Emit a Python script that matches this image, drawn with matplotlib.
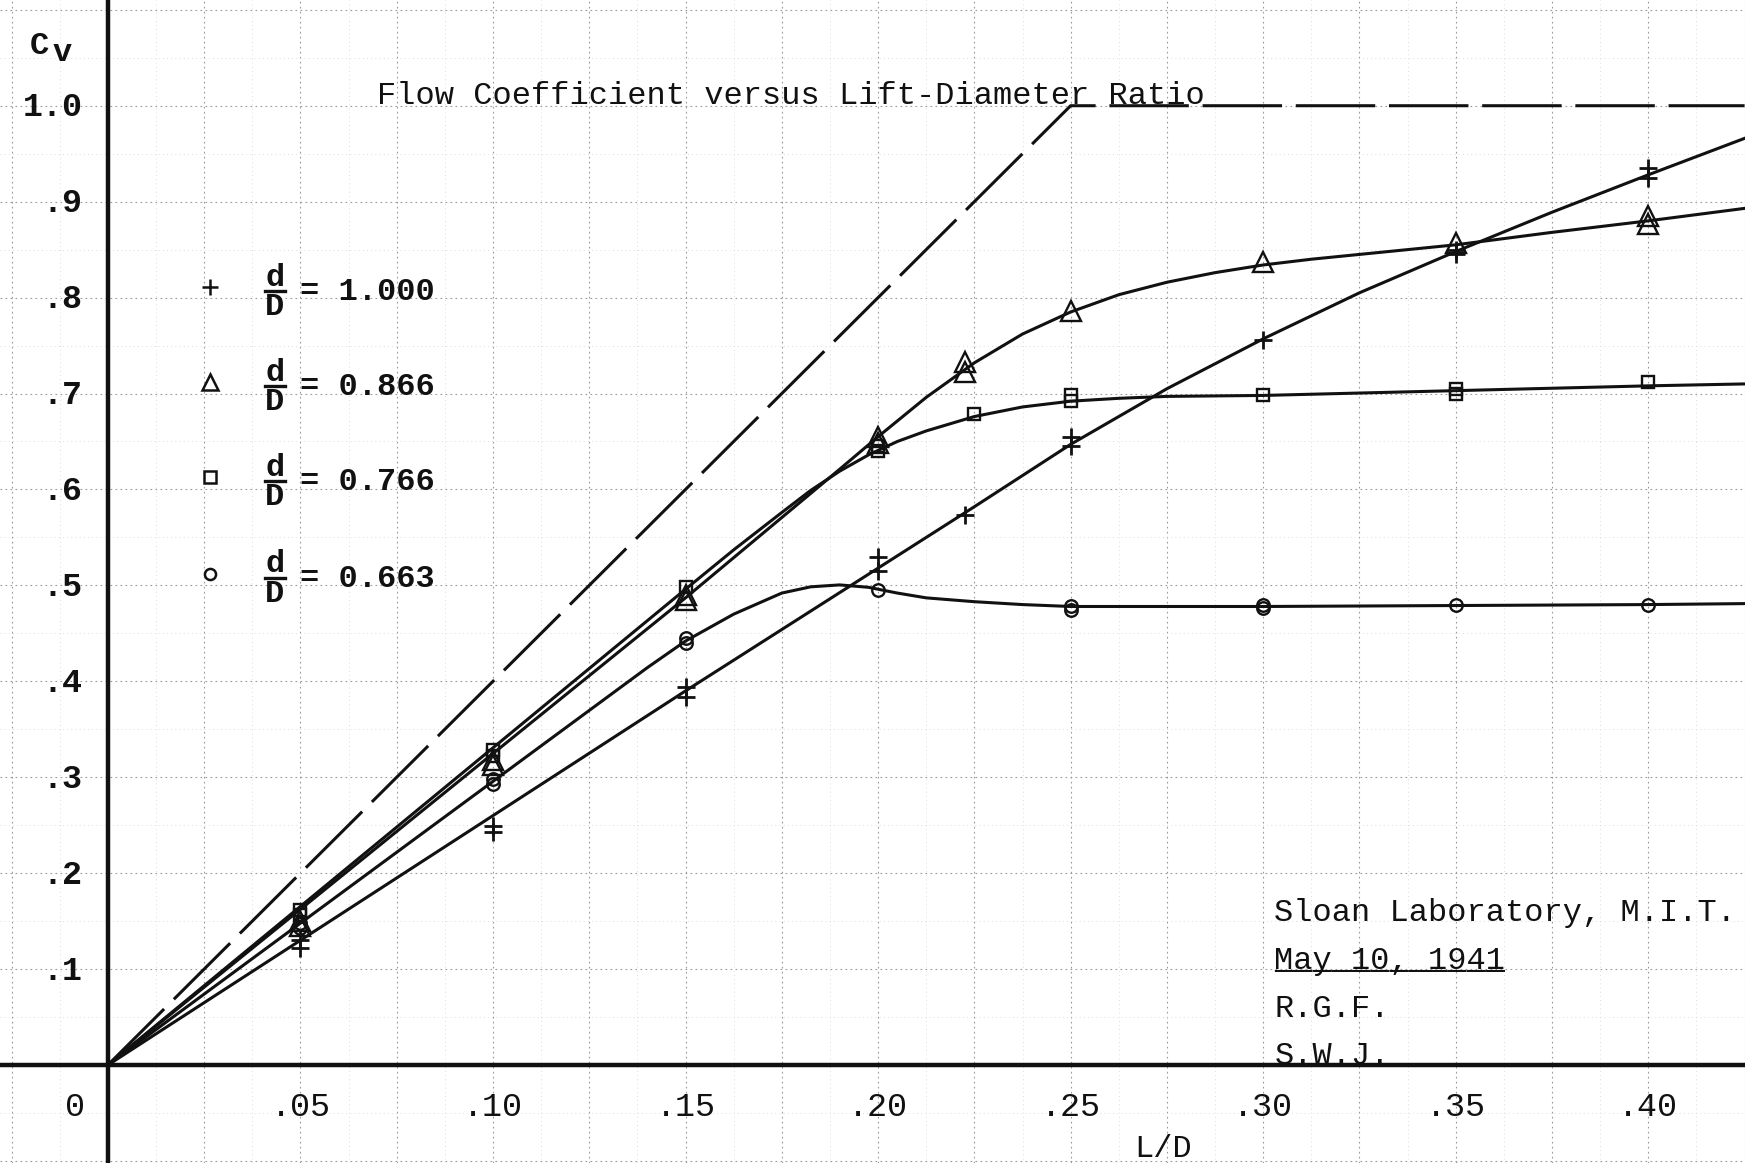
import matplotlib
matplotlib.use('Agg')
import matplotlib.pyplot as plt
import numpy as np

plt.rcParams['font.family'] = ['Liberation Mono', 'DejaVu Sans Mono']

# measured points (L/D, Cv); repeated runs share the same L/D
ld_100 = [0.05, 0.05, 0.10, 0.10, 0.15, 0.15, 0.20, 0.20, 0.2225, 0.25, 0.25, 0.30, 0.35, 0.35, 0.40, 0.40]
cv_100 = [0.130, 0.122, 0.249, 0.243, 0.394, 0.384, 0.530, 0.515, 0.573, 0.655, 0.645, 0.756, 0.850, 0.845, 0.935, 0.925]

ld_866 = [0.05, 0.05, 0.10, 0.10, 0.15, 0.15, 0.20, 0.20, 0.2225, 0.2225, 0.25, 0.30, 0.35, 0.40, 0.40]
cv_866 = [0.150, 0.145, 0.318, 0.313, 0.490, 0.485, 0.655, 0.648, 0.733, 0.722, 0.786, 0.837, 0.857, 0.885, 0.877]

ld_766 = [0.05, 0.05, 0.10, 0.10, 0.15, 0.20, 0.20, 0.225, 0.25, 0.25, 0.30, 0.35, 0.35, 0.40]
cv_766 = [0.162, 0.156, 0.328, 0.322, 0.498, 0.645, 0.640, 0.679, 0.698, 0.692, 0.698, 0.705, 0.700, 0.712]

ld_663 = [0.05, 0.05, 0.10, 0.10, 0.15, 0.15, 0.20, 0.25, 0.25, 0.30, 0.30, 0.35, 0.40]
cv_663 = [0.148, 0.143, 0.298, 0.293, 0.445, 0.440, 0.495, 0.479, 0.474, 0.480, 0.476, 0.480, 0.480]

# faired curves as drawn on the sheet
fair_x_100 = [0, 0.15, 0.20, 0.225, 0.25, 0.275, 0.30, 0.325, 0.35, 0.375, 0.40, 0.425]
fair_cv_100 = [0, 0.390, 0.518, 0.582, 0.647, 0.705, 0.757, 0.805, 0.848, 0.889, 0.928, 0.966]

fair_x_866 = [0, 0.15, 0.19, 0.20, 0.2125, 0.225, 0.2375, 0.25, 0.2625, 0.275, 0.2875, 0.30, 0.3125, 0.325, 0.35, 0.375, 0.40, 0.425]
fair_cv_866 = [0, 0.487, 0.621, 0.655, 0.696, 0.732, 0.762, 0.785, 0.803, 0.816, 0.826, 0.834, 0.840, 0.845, 0.855, 0.868, 0.880, 0.893]

fair_x_766 = [0, 0.15, 0.1625, 0.175, 0.1825, 0.19, 0.1975, 0.205, 0.2125, 0.225, 0.2375, 0.25, 0.2625, 0.275, 0.30, 0.35, 0.40, 0.425]
fair_cv_766 = [0, 0.496, 0.537, 0.576, 0.599, 0.619, 0.636, 0.650, 0.661, 0.676, 0.686, 0.692, 0.695, 0.697, 0.698, 0.703, 0.708, 0.710]

fair_x_663 = [0, 0.14, 0.15, 0.1625, 0.175, 0.1825, 0.19, 0.1975, 0.205, 0.2125, 0.225, 0.2375, 0.25, 0.30, 0.35, 0.40, 0.425]
fair_cv_663 = [0, 0.414, 0.442, 0.470, 0.492, 0.4985, 0.5005, 0.498, 0.492, 0.487, 0.483, 0.480, 0.478, 0.478, 0.479, 0.480, 0.481]

# ideal line Cv = 4 L/D, capped at 1.0
ideal_x = [0, 0.25, 0.425]
ideal_cv = [0, 1.0, 1.0]

ratio_labels = ['1.000', '0.866', '0.766', '0.663']
ratio_markers = ['+', '^', 's', 'o']

xtick_vals = [0.05, 0.10, 0.15, 0.20, 0.25, 0.30, 0.35, 0.40]
xtick_labels = ['.05', '.10', '.15', '.20', '.25', '.30', '.35', '.40']
ytick_vals = [0.1, 0.2, 0.3, 0.4, 0.5, 0.6, 0.7, 0.8, 0.9, 1.0]
ytick_labels = ['.1', '.2', '.3', '.4', '.5', '.6', '.7', '.8', '.9', '1.0']

sign_lines = ['Sloan Laboratory, M.I.T.', 'May 10, 1941', 'R.G.F.', 'S.W.J.']

fs = 23
ink = '#111111'

fig = plt.figure(figsize=(17.45, 11.63), dpi=100)
ax = fig.add_axes([0, 0, 1, 1])
ax.set_xlim(-0.0280, 0.4251)
ax.set_ylim(-0.1021, 1.1102)
for s in ax.spines.values():
    s.set_visible(False)

# graph paper
ax.set_xticks(np.arange(-0.025, 0.43, 0.025))
ax.set_xticks(np.arange(-0.025, 0.43, 0.0125), minor=True)
ax.set_yticks(np.arange(-0.1, 1.15, 0.1))
ax.set_yticks(np.arange(-0.1, 1.15, 0.05), minor=True)
ax.tick_params(which='both', length=0, labelbottom=False, labelleft=False)
ax.grid(which='major', color='#9a9a9a', lw=0.8, ls=(0, (1.5, 3)))
ax.grid(which='minor', color='#d2d2d2', lw=0.6, ls=(0, (1, 4)))
ax.set_axisbelow(True)

# heavy axes
ax.axvline(0, color=ink, lw=3.2, zorder=3)
ax.axhline(0, color=ink, lw=3.2, zorder=3)

# ideal dashed line
ax.plot(ideal_x, ideal_cv, color=ink, lw=2.2, dashes=(26, 4.5), zorder=4)

# faired curves
lw = 2.2
ax.plot(fair_x_100, fair_cv_100, color=ink, lw=lw, zorder=4, solid_joinstyle='round')
ax.plot(fair_x_866, fair_cv_866, color=ink, lw=lw, zorder=4, solid_joinstyle='round')
ax.plot(fair_x_766, fair_cv_766, color=ink, lw=lw, zorder=4, solid_joinstyle='round')
ax.plot(fair_x_663, fair_cv_663, color=ink, lw=lw, zorder=4, solid_joinstyle='round')

# data points
ax.plot(ld_100, cv_100, ls='none', marker='+', ms=13, mew=2.0, color=ink, zorder=5)
ax.plot(ld_866, cv_866, ls='none', marker='^', ms=14, mew=1.7, mfc='none', mec=ink, zorder=5)
ax.plot(ld_766, cv_766, ls='none', marker='s', ms=9, mew=1.7, mfc='none', mec=ink, zorder=5)
ax.plot(ld_663, cv_663, ls='none', marker='o', ms=9, mew=1.7, mfc='none', mec=ink, zorder=5)

# hand made key: marker, d over D, value
key_rows = [0.808, 0.709, 0.610, 0.509]
key_sizes = [11, 11, 9, 8]
for row, lab, m, ms in zip(key_rows, ratio_labels, ratio_markers, key_sizes):
    ax.plot([0.0265], [row + 0.003], ls='none', marker=m, ms=ms, mew=1.8,
            mfc='none', mec=ink, color=ink, zorder=5)
    ax.text(0.0434, row + 0.0045, 'd', fontsize=fs, color=ink, ha='center', va='baseline',
            weight='bold')
    ax.text(0.0434, row - 0.0265, 'D', fontsize=fs, color=ink, ha='center', va='baseline',
            weight='bold')
    ax.plot([0.0408, 0.0460], [row - 0.001, row - 0.001], color=ink, lw=2.4)
    ax.text(0.0500, row - 0.011, '= ' + lab, fontsize=fs, color=ink, ha='left', va='baseline',
            weight='bold')

# title
ax.text(0.0700, 1.002, 'Flow Coefficient versus Lift-Diameter Ratio', fontsize=fs,
        color=ink, ha='left', va='baseline')

# axis labels
ax.text(-0.0179, 1.0534, 'C', fontsize=fs, color=ink, ha='center', va='baseline', weight='bold')
ax.text(-0.0118, 1.047, 'v', fontsize=fs, color=ink, ha='center', va='baseline', weight='bold')
ax.text(0.274, -0.096, 'L/D', fontsize=fs, color=ink, ha='center', va='baseline')

for v, lab in zip(xtick_vals, xtick_labels):
    ax.text(v, -0.0534, lab, fontsize=fs + 1, color=ink, ha='center', va='baseline')
for v, lab in zip(ytick_vals, ytick_labels):
    ax.text(-0.0066, v - 0.011, lab, fontsize=fs + 1, color=ink, ha='right', va='baseline',
            weight='bold')
ax.text(-0.0084, -0.0534, '0', fontsize=fs + 1, color=ink, ha='center', va='baseline')

# laboratory stamp
for i, line in enumerate(sign_lines):
    ax.text(0.3029, 0.150 - 0.0497 * i, line, fontsize=fs, color=ink, ha='left', va='baseline')
ax.text(0.3029, 0.150 - 0.0497, '_' * len(sign_lines[1]), fontsize=fs, color=ink,
        ha='left', va='baseline')

fig.savefig('out.png', dpi=100)
